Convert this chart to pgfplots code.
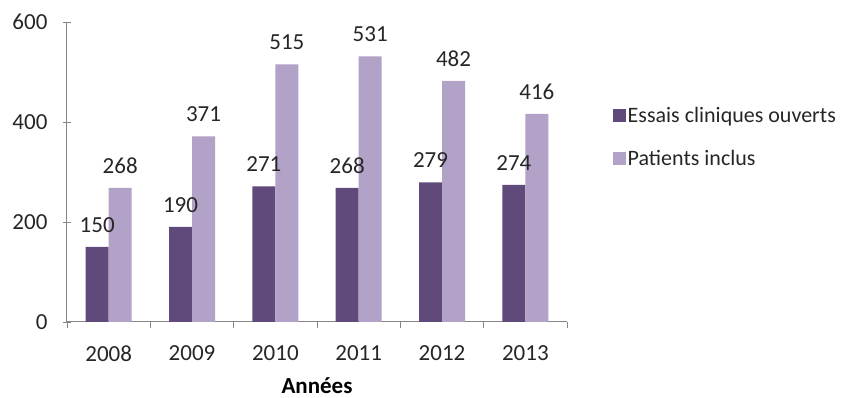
\documentclass[border=0pt]{standalone}
\usepackage{fontspec}
\setmainfont{Carlito}
\usepackage{pgfplots}
\pgfplotsset{compat=1.18}
\definecolor{dk}{HTML}{604A7B}
\definecolor{lt}{HTML}{B3A2C7}
\definecolor{ax}{HTML}{868686}
\definecolor{tx}{HTML}{262626}
\begin{document}
\fontsize{22}{26}\selectfont
\begin{tikzpicture}
\path[use as bounding box] (-67pt,-76pt) rectangle (775pt,322pt);
\begin{axis}[
  at={(0pt,0pt)}, anchor=south west,
  scale only axis, width=500pt, height=300pt,
  xmin=-0.5, xmax=5.5, ymin=0, ymax=600,
  ytick={0,200,400,600},
  xtick={0,1,2,3,4,5},
  xticklabels={2008,2009,2010,2011,2012,2013},
  minor xtick={-0.5,0.5,1.5,2.5,3.5,4.5,5.5},
  major x tick style={draw=none},
  minor tick length=6pt, major tick length=8pt,
  tick align=outside,
  axis x line=bottom, axis y line=left,
  axis line style={-, draw=ax, line width=1pt},
  tick style={draw=ax, line width=0.8pt},
  /pgf/number format/assume math mode=true,
  ticklabel style={text=tx, font=\fontsize{23}{27}\selectfont},
  xticklabel style={yshift=-8pt},
  yticklabel style={xshift=-8pt},
  xlabel={\textbf{Années}},
  xlabel style={text=black, font=\fontsize{23}{27}\selectfont, yshift=-1pt},
  ybar=0pt, bar width=23pt,
  nodes near coords,
  every node near coord/.append style={text=tx, font=\fontsize{23}{27}\selectfont, yshift=7pt},
  legend style={draw=none, fill=none, at={(1.085,0.73)}, anchor=north west,
    font=\fontsize{22}{26}\selectfont, row sep=20pt, text=tx},
  legend cell align=left,
  legend image code/.code={\fill[#1,draw=none] (0pt,-6pt) rectangle (13pt,7pt);},
]
\addplot[fill=dk, draw=none] coordinates {(0,150) (1,190) (2,271) (3,268) (4,279) (5,274)};
\addplot[fill=lt, draw=none] coordinates {(0,268) (1,371) (2,515) (3,531) (4,482) (5,416)};
\legend{Essais cliniques ouverts, Patients inclus}
\end{axis}
\end{tikzpicture}
\end{document}
